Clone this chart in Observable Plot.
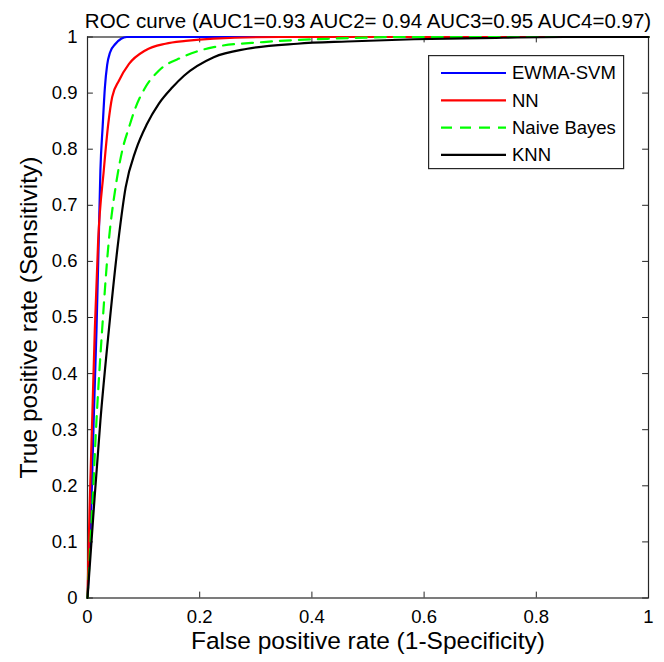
<!DOCTYPE html>
<html><head><meta charset="utf-8">
<script src="https://cdn.jsdelivr.net/npm/d3@7"></script>
<script src="https://cdn.jsdelivr.net/npm/@observablehq/plot@0.6"></script>
<style>
body{margin:0;background:#fff;font-family:"Liberation Sans",Arial,Helvetica,sans-serif;}
#wrap{position:relative;width:664px;height:662px;}
</style></head><body><div id="wrap"></div>
<script>
const title = "ROC curve (AUC1=0.93 AUC2= 0.94 AUC3=0.95 AUC4=0.97)";
const xLabel = "False positive rate (1-Specificity)";
const yLabel = "True positive rate (Sensitivity)";
const seriesNames = ["EWMA-SVM", "NN", "Naive Bayes", "KNN"];
const seriesColors = ["#0000ff", "#ff0000", "#00ff00", "#000000"];
const seriesDash = [null, null, "11,8", null];

const svmFpr = [0, 0.0066, 0.011, 0.016, 0.020, 0.023, 0.027, 0.031, 0.035, 0.040, 0.050, 0.060, 0.070, 1];
const svmTpr = [0, 0.156, 0.316, 0.477, 0.637, 0.762, 0.840, 0.910, 0.950, 0.972, 0.988, 0.997, 1, 1];

const nnFpr = [0, 0.0036, 0.0083, 0.013, 0.019, 0.029, 0.037, 0.044, 0.056, 0.074, 0.103, 0.139, 0.175, 0.225, 0.344, 1];
const nnTpr = [0, 0.156, 0.316, 0.477, 0.637, 0.762, 0.845, 0.893, 0.922, 0.952, 0.976, 0.988, 0.993, 0.997, 1, 1];

const nbFpr = [0, 0.0083, 0.016, 0.026, 0.038, 0.050, 0.062, 0.074, 0.086, 0.103, 0.127, 0.169, 0.225, 0.314, 0.433, 0.580, 1];
const nbTpr = [0, 0.156, 0.316, 0.477, 0.637, 0.732, 0.798, 0.839, 0.875, 0.910, 0.940, 0.964, 0.982, 0.991, 0.997, 1, 1];

const knnFpr = [0, 0.011, 0.023, 0.038, 0.055, 0.068, 0.086, 0.106, 0.127, 0.151, 0.172, 0.225, 0.285, 0.374, 0.463, 0.582, 0.700, 0.850, 1];
const knnTpr = [0, 0.156, 0.316, 0.477, 0.637, 0.732, 0.798, 0.845, 0.881, 0.910, 0.931, 0.964, 0.979, 0.988, 0.992, 0.996, 0.998, 1, 1];

const xTicks = [0, 0.2, 0.4, 0.6, 0.8, 1];
const yTicks = [0, 0.1, 0.2, 0.3, 0.4, 0.5, 0.6, 0.7, 0.8, 0.9, 1];

const seriesX = [svmFpr, nnFpr, nbFpr, knnFpr];
const seriesY = [svmTpr, nnTpr, nbTpr, knnTpr];
const rows = seriesNames.map((name, i) => seriesX[i].map((x, j) => ({series: name, fpr: x, tpr: seriesY[i][j]})));

const fmt = d => String(+d.toFixed(1));
const tickLen = 0.0105;
const axisColor = "#262626";

const plot = Plot.plot({
  width: 664, height: 662,
  marginLeft: 87, marginRight: 16, marginTop: 36.5, marginBottom: 64.5,
  style: {fontFamily: '"Liberation Sans", Arial, Helvetica, sans-serif', fontSize: "18.5px", color: "#000", background: "#fff", overflow: "visible"},
  x: {domain: [0, 1]},
  y: {domain: [0, 1]},
  marks: [
    Plot.axisX(xTicks, {anchor: "bottom", tickSize: 0, tickPadding: 12, tickFormat: fmt, label: null, fontSize: 18.5}),
    Plot.axisY(yTicks, {anchor: "left", tickSize: 0, tickPadding: 10, tickFormat: fmt, label: null, fontSize: 18.5}),
    Plot.ruleX(xTicks, {x: d => d, y1: 0, y2: tickLen, stroke: axisColor}),
    Plot.ruleX(xTicks, {x: d => d, y1: 1 - tickLen, y2: 1, stroke: axisColor}),
    Plot.ruleY(yTicks, {y: d => d, x1: 0, x2: tickLen, stroke: axisColor}),
    Plot.ruleY(yTicks, {y: d => d, x1: 1 - tickLen, x2: 1, stroke: axisColor}),
    Plot.frame({stroke: axisColor, strokeWidth: 1.2}),
    ...rows.map((r, i) => Plot.line(r, {x: "fpr", y: "tpr", stroke: seriesColors[i], strokeWidth: 2.2, strokeDasharray: seriesDash[i], curve: "monotone-x"})),
    Plot.text([title], {frameAnchor: "top", lineAnchor: "bottom", dy: -9, fontSize: 20.5, fill: "#000"}),
    Plot.text([xLabel], {frameAnchor: "bottom", lineAnchor: "bottom", dy: 51, fontSize: 24.5, fill: "#000"}),
    Plot.text([yLabel], {frameAnchor: "left", textAnchor: "middle", lineAnchor: "middle", rotate: -90, dx: -58, fontSize: 24.5, fill: "#000"})
  ]
});
document.getElementById("wrap").appendChild(plot);

// legend
const leg = d3.select("#wrap").append("svg")
  .style("position", "absolute").style("left", "428px").style("top", "55px")
  .attr("width", 197).attr("height", 115);
leg.append("rect").attr("x", 0.6).attr("y", 0.6).attr("width", 195).attr("height", 113)
  .attr("fill", "#fff").attr("stroke", axisColor).attr("stroke-width", 1.2);
seriesNames.forEach((name, i) => {
  const y = 18 + i * 27.3;
  leg.append("line").attr("x1", 13).attr("x2", 78).attr("y1", y).attr("y2", y)
    .attr("stroke", seriesColors[i]).attr("stroke-width", 2.2)
    .attr("stroke-dasharray", seriesDash[i]);
  leg.append("text").attr("x", 84).attr("y", y).attr("dy", "0.35em")
    .attr("font-size", 18.5).attr("fill", "#000")
    .attr("font-family", '"Liberation Sans", Arial, Helvetica, sans-serif')
    .text(name);
});
</script>
</body></html>
